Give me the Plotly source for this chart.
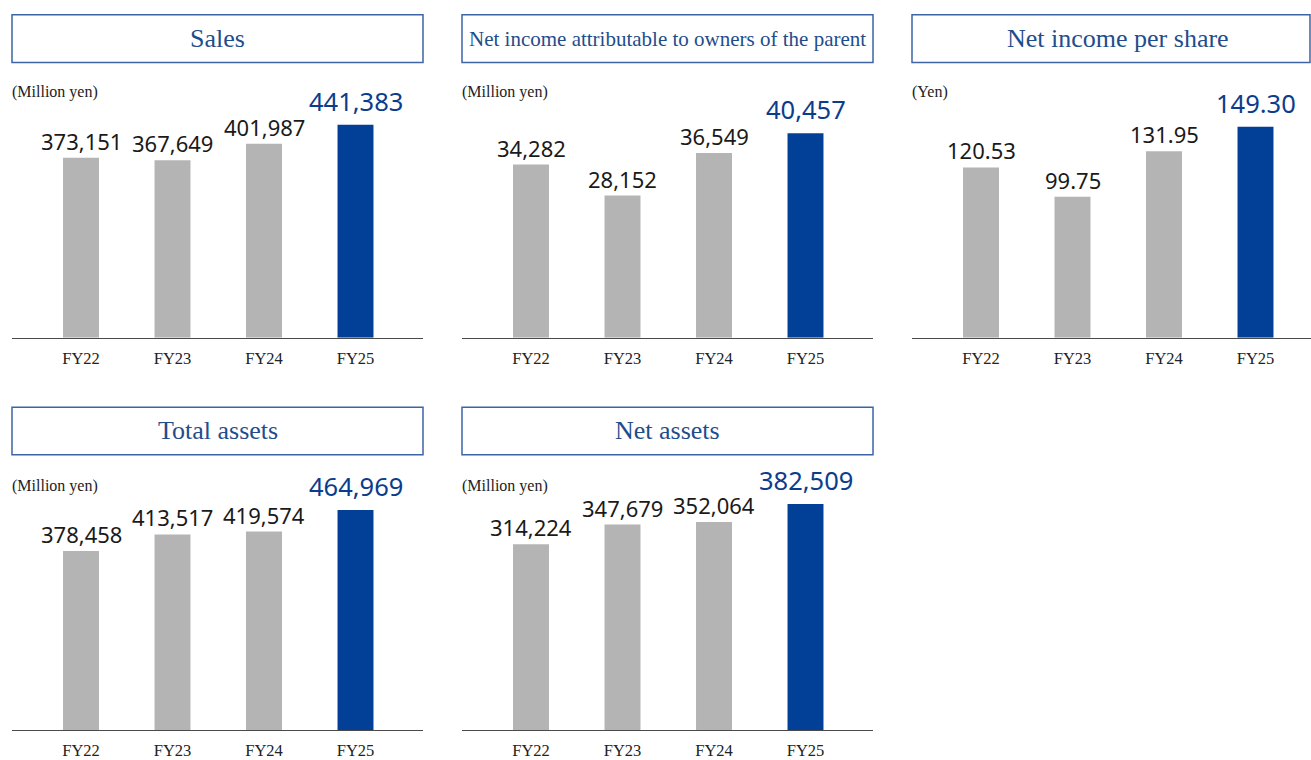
import plotly.graph_objects as go

W, H = 1311, 760

categories = ["FY22", "FY23", "FY24", "FY25"]
sales = [373151, 367649, 401987, 441383]
net_income = [34282, 28152, 36549, 40457]
eps = [120.53, 99.75, 131.95, 149.30]
total_assets = [378458, 413517, 419574, 464969]
net_assets = [314224, 347679, 352064, 382509]

titles = ["Sales", "Net income attributable to owners of the parent", "Net income per share",
          "Total assets", "Net assets"]
units = ["(Million yen)", "(Million yen)", "(Yen)", "(Million yen)", "(Million yen)"]
series = [sales, net_income, eps, total_assets, net_assets]
fmts = ["{:,.0f}", "{:,.0f}", "{:.2f}", "{:,.0f}", "{:,.0f}"]

# layout geometry (pixels)
panels = [
    dict(x0=12, x1=423, bx1=423, tcx=217.5, base=341, top=100, by0=15, by1=63, uy=93, tfs=26, ymax=494500),
    dict(x0=462, x1=873, bx1=873, tcx=667.5, base=341, top=100, by0=15, by1=63, uy=93, tfs=21, ymax=47240),
    dict(x0=912, x1=1311, bx1=1310, tcx=1117.5, base=341, top=100, by0=15, by1=63, uy=93, tfs=26, ymax=168.9),
    dict(x0=12, x1=423, bx1=423, tcx=217.5, base=737, top=496, by0=411, by1=459, uy=491, tfs=26, ymax=504200),
    dict(x0=462, x1=873, bx1=873, tcx=667.5, base=737, top=496, by0=411, by1=459, uy=491, tfs=26, ymax=403700),
]

GRAY = "#b4b4b4"
BLUE = "#023f97"
TITLE_BLUE = "#1f4d8c"
BOX_BLUE = "#3c64a6"
LABEL_BLUE = "#0b3d8c"
SPACING = 91.5  # px per category
FIRST = 69      # px from left edge to first bar center

def px(x):
    return x / W

def py(y):
    return 1 - y / H

fig = go.Figure()
shapes = []
annotations = []

for i, (p, vals, fmt) in enumerate(zip(panels, series, fmts)):
    n = i + 1
    xa = "x" if n == 1 else f"x{n}"
    ya = "y" if n == 1 else f"y{n}"
    colors = [GRAY] * (len(vals) - 1) + [BLUE]
    fig.add_trace(go.Bar(x=categories, y=vals, marker=dict(color=colors, line=dict(width=0)),
                         xaxis=xa, yaxis=ya, showlegend=False, hoverinfo="x+y"))
    width = p["x1"] - p["x0"]
    r0 = -FIRST / SPACING
    r1 = r0 + width / SPACING
    fig.layout[f"xaxis{'' if n == 1 else n}"] = dict(
        domain=[px(p["x0"]), px(p["x1"])], anchor=ya, range=[r0, r1],
        showline=True, linecolor="#4a4a4a", linewidth=1, showgrid=False, zeroline=False,
        ticks="", ticklabelstandoff=5,
        tickfont=dict(family="Liberation Serif", size=16.5, color="#222222"), fixedrange=True)
    fig.layout[f"yaxis{'' if n == 1 else n}"] = dict(
        domain=[py(p["base"]), py(p["top"])], anchor=xa, range=[0, p["ymax"]],
        visible=False, showgrid=False, zeroline=False, fixedrange=True)

    # value labels
    for j, (c, v) in enumerate(zip(categories, vals)):
        last = j == len(vals) - 1
        annotations.append(dict(
            x=c, y=v, xref=xa, yref=ya, text=fmt.format(v), showarrow=False,
            yanchor="bottom", xanchor="center", yshift=5 if last else 0,
            font=dict(family="Noto Sans", size=25.5 if last else 22,
                      color=LABEL_BLUE if last else "#1a1a1a")))

    # title box
    shapes.append(dict(type="rect", xref="paper", yref="paper",
                       x0=px(p["x0"]), x1=px(p["bx1"]), y0=py(p["by1"]), y1=py(p["by0"]),
                       line=dict(color=BOX_BLUE, width=1.5), fillcolor="rgba(0,0,0,0)"))
    annotations.append(dict(x=px(p["tcx"]), y=py((p["by0"] + p["by1"]) / 2), xref="paper", yref="paper",
                            text=titles[i], showarrow=False, xanchor="center", yanchor="middle",
                            font=dict(family="Liberation Serif", size=p["tfs"], color=TITLE_BLUE)))
    # unit label
    annotations.append(dict(x=px(p["x0"] - 2), y=py(p["uy"]), xref="paper", yref="paper",
                            text=units[i], showarrow=False, xanchor="left", yanchor="middle",
                            font=dict(family="Liberation Serif", size=16, color="#222222")))

fig.update_layout(width=W, height=H, margin=dict(l=0, r=0, t=0, b=0),
                  paper_bgcolor="white", plot_bgcolor="white",
                  bargap=0.607, shapes=shapes, annotations=annotations)

fig.write_html("out.html", config={"displayModeBar": False})
